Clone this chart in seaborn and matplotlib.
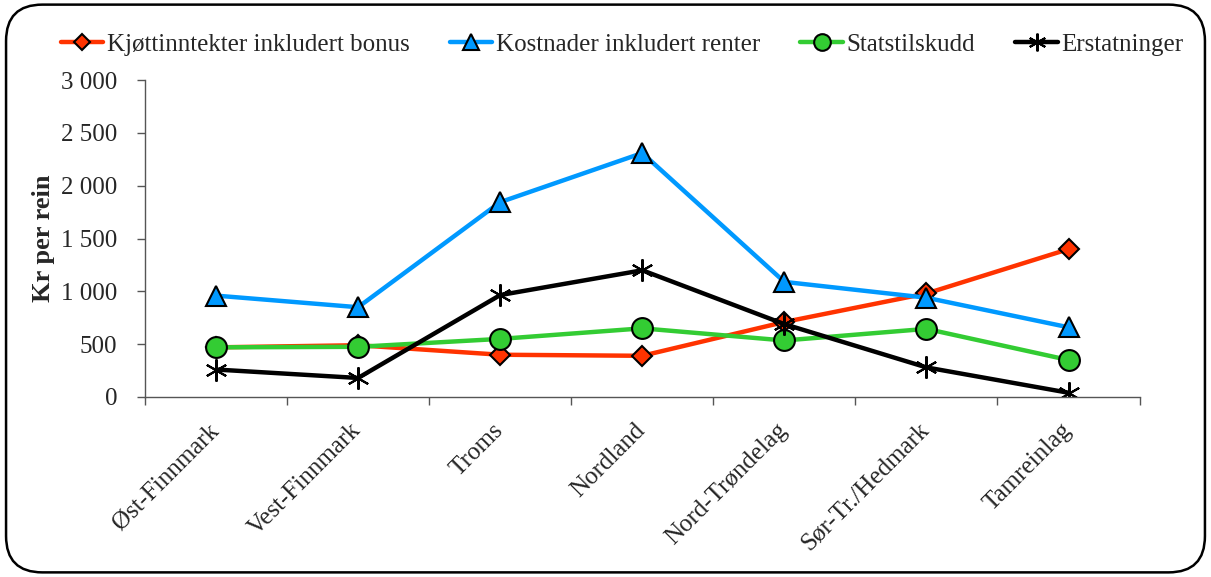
import matplotlib.pyplot as plt
import seaborn as sns
import pandas as pd
from matplotlib.patches import FancyBboxPatch
from matplotlib.ticker import FixedLocator, FuncFormatter
from matplotlib.transforms import ScaledTranslation

regions = ["Øst-Finnmark", "Vest-Finnmark", "Troms", "Nordland",
           "Nord-Trøndelag", "Sør-Tr./Hedmark", "Tamreinlag"]
kjott = [470, 490, 400, 390, 710, 980, 1400]
kostnader = [960, 850, 1845, 2310, 1090, 940, 660]
statstilskudd = [470, 475, 550, 650, 535, 645, 350]
erstatninger = [260, 180, 965, 1200, 690, 280, 40]

series = [
    ("Kjøttinntekter inkludert bonus", kjott, "#FF3300", "D", 10),
    ("Kostnader inkludert renter", kostnader, "#0099FF", "^", 14),
    ("Statstilskudd", statstilskudd, "#33CC33", "o", 15),
    ("Erstatninger", erstatninger, "black", (6, 2, 0), 16),
]

sns.set_style("white")
plt.rcParams["font.family"] = ["Liberation Serif", "DejaVu Serif"]

fig = plt.figure(figsize=(12.11, 5.77), dpi=100)
ax = fig.add_axes([0.1197, 0.312, 0.8213, 0.549])

for name, vals, color, marker, ms in series:
    df = pd.DataFrame({"Region": regions, "Verdi": vals})
    sns.lineplot(data=df, x="Region", y="Verdi", ax=ax, color=color, lw=3.2,
                 marker=marker, markersize=ms, markeredgecolor="black",
                 markeredgewidth=1.5, label=name, sort=False)

ax.set_xlim(-0.5, 6.5)
ax.set_ylim(0, 3000)
ax.set_yticks(range(0, 3001, 500))
ax.yaxis.set_major_formatter(FuncFormatter(lambda v, p: f"{int(v):,}".replace(",", " ")))
ax.set_xticks(range(len(regions)))
ax.set_xticklabels(regions, rotation=45, ha="right", va="top", rotation_mode="anchor")
ax.xaxis.set_minor_locator(FixedLocator([i + 0.5 for i in range(-1, 7)]))
ax.tick_params(axis="x", which="major", length=0, pad=16, labelsize=18)
ax.tick_params(axis="x", which="minor", length=6, width=1, color="#555555", direction="out", bottom=True)
ax.tick_params(axis="y", length=6, width=1, color="#555555", direction="out", left=True, labelsize=18, pad=14)
ax.set_xlabel("")
ax.set_ylabel("Kr per rein", fontsize=19, fontweight="bold", labelpad=4)

shift = ScaledTranslation(-8 / 100, 0, fig.dpi_scale_trans)
for lbl in ax.get_xticklabels():
    lbl.set_transform(lbl.get_transform() + shift)

for s in ["top", "right"]:
    ax.spines[s].set_visible(False)
for s in ["left", "bottom"]:
    ax.spines[s].set_color("#555555")
    ax.spines[s].set_linewidth(1)

ax.legend(loc="center", bbox_to_anchor=(0.48, 1.113), ncol=4, frameon=False,
          fontsize=18, handlelength=1.7, handletextpad=0.15, columnspacing=1.6,
          markerscale=0.8)

border = FancyBboxPatch((0.005, 0.008), 0.99, 0.984, boxstyle="round,pad=0,rounding_size=0.03",
                        transform=fig.transFigure, fill=False, edgecolor="black", lw=1.8,
                        mutation_aspect=1211 / 577)
fig.patches.append(border)

fig.savefig("out.png", dpi=100)
